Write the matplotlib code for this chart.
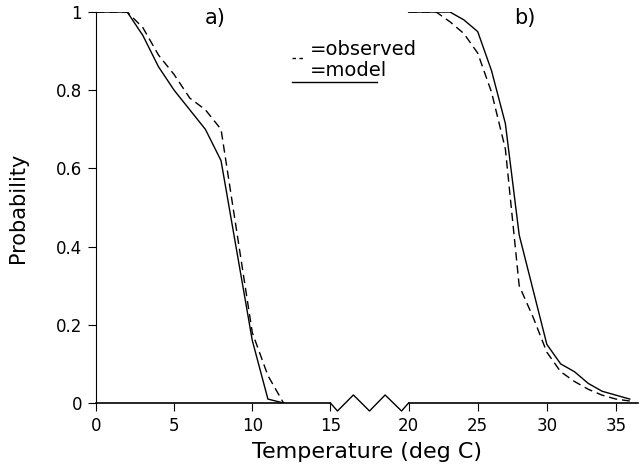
import numpy as np
import matplotlib.pyplot as plt
from matplotlib.ticker import FuncFormatter

# pannello a): basse temperature
temp_a = [0, 1, 2, 3, 4, 5, 6, 7, 8, 9, 10, 11, 12]
obs_a = [1, 1, 1, 0.96, 0.89, 0.84, 0.78, 0.75, 0.70, 0.44, 0.18, 0.07, 0.0]
mod_a = [1, 1, 1, 0.94, 0.86, 0.80, 0.75, 0.70, 0.62, 0.39, 0.16, 0.01, 0.0]

# pannello b): alte temperature
temp_b = [20, 21, 22, 23, 24, 25, 26, 27, 28, 29, 30, 31, 32, 33, 34, 35, 36]
obs_b = [1, 1, 1, 0.975, 0.945, 0.895, 0.795, 0.65, 0.30, 0.22, 0.13, 0.08,
         0.055, 0.035, 0.02, 0.01, 0.005]
mod_b = [1, 1, 1, 1, 0.98, 0.95, 0.85, 0.715, 0.43, 0.29, 0.15, 0.10,
         0.08, 0.05, 0.03, 0.02, 0.01]

x_ticks = [0, 5, 10, 15, 20, 25, 30, 35]
y_ticks = [0, 0.2, 0.4, 0.6, 0.8, 1]

# asse x spezzato: dopo 20 gradi la scala si comprime
k = 0.8846


def fwd(x):
    x = np.asarray(x, dtype=float)
    return np.where(x <= 20, x, 20 + (x - 20) * k)


def inv(u):
    u = np.asarray(u, dtype=float)
    return np.where(u <= 20, u, 20 + (u - 20) / k)


fig = plt.figure(figsize=(6.4, 4.71), dpi=100)
ax = fig.add_axes([0.15, 0.1444, 0.847, 0.830])
ax.set_xscale('function', functions=(fwd, inv))
ax.set_xlim(0, 36.6)
ax.set_ylim(0, 1)

tratteggio = (0, (6, 3.5))
ax.plot(temp_a, mod_a, color='black', lw=1.0)
ax.plot(temp_a, obs_a, color='black', lw=1.0, linestyle=tratteggio)
ax.plot(temp_b, mod_b, color='black', lw=1.0)
ax.plot(temp_b, obs_b, color='black', lw=1.0, linestyle=tratteggio)

# linea dell'asse x con lo zigzag fra 15 e 20
ax.spines['bottom'].set_visible(False)
ax.spines['top'].set_visible(False)
ax.spines['right'].set_visible(False)
tr = ax.get_xaxis_transform()
d = 0.0205
ax.plot([0, 15], [0, 0], color='black', lw=1.2, transform=tr, clip_on=False)
ax.plot([15, 15.45, 16.47, 17.5, 18.5, 19.55, 20], [0, -d, d, -d, d, -d, 0],
        color='black', lw=1.0, transform=tr, clip_on=False)
ax.plot([20, 36.6], [0, 0], color='black', lw=1.2, transform=tr, clip_on=False)

ax.set_xticks(x_ticks)
ax.set_yticks(y_ticks)
ax.xaxis.set_major_formatter(FuncFormatter(lambda v, p: f"{v:g}"))
ax.yaxis.set_major_formatter(FuncFormatter(lambda v, p: f"{v:g}"))
ax.minorticks_off()
ax.tick_params(direction='out', length=6, width=0.8, labelsize=12, pad=4)
ax.spines['left'].set_linewidth(0.8)

ax.set_xlabel("Temperature (deg C)", fontsize=16, labelpad=5)
ax.set_ylabel("Probability", fontsize=15, labelpad=20)

ax.text(7.6, 0.985, "a)", fontsize=15, ha='center', va='center')
ax.text(28.4, 0.985, "b)", fontsize=15, ha='center', va='center')

# legenda disegnata a mano come nell'originale
ax.plot([12.54, 13.37], [0.882, 0.882], color='black', lw=1.0, linestyle=(0, (2.5, 2.5)))
ax.plot([12.54, 17.98], [0.821, 0.821], color='black', lw=1.0)
ax.text(13.69, 0.905, "=observed", fontsize=14, ha='left', va='center')
ax.text(13.69, 0.85, "=model", fontsize=14, ha='left', va='center')

plt.savefig("out.png", dpi=100)
